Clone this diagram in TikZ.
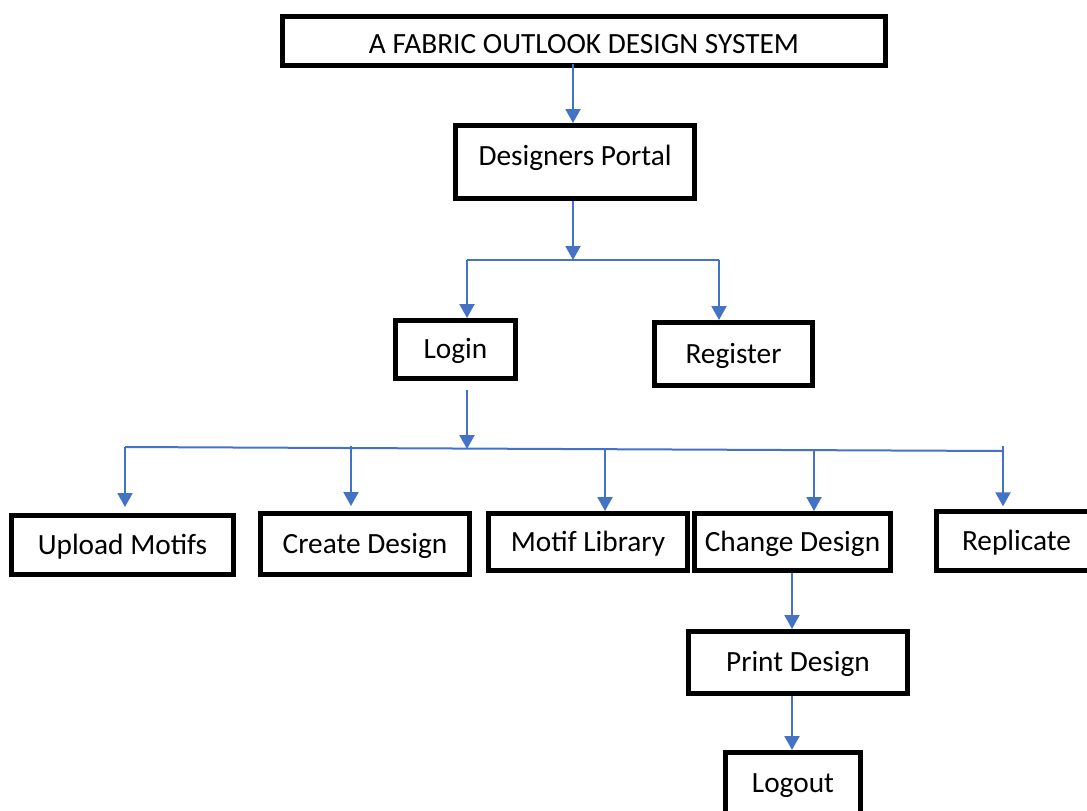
\documentclass[tikz,border=0pt]{standalone}
\usepackage{fontspec}
\setmainfont{Carlito}
\usetikzlibrary{arrows.meta,calc}
\definecolor{linkblue}{RGB}{68,114,196}
\begin{document}
\begin{tikzpicture}[x=0.75pt,y=-0.75pt,
  box/.style={draw=black, line width=3.75pt, inner sep=0pt, fill=white,
    font=\fontsize{22}{26}\selectfont, text height=14.17pt, text depth=0pt},
  sz/.style 2 args={minimum width=#1*0.75pt, minimum height=#2*0.75pt},
  link/.style={draw=linkblue, line width=1.5pt},
  arr/.style={link, -{Triangle[length=10.5pt,width=11.25pt]}}]
\useasboundingbox (0,0) rectangle (1087,810);
\fill[white] (0,0) rectangle (1087,810);

% boxes
\node[box, sz={603}{49}, text height=18pt] (title) at (584,41) {A FABRIC OUTLOOK DESIGN SYSTEM};
\node[box, sz={239}{73}, text depth=8.2pt] (portal) at (575,162) {Designers Portal};
\node[box, sz={120}{58}] (login) at (455.5,349.5) {Login};
\node[box, sz={158}{63}] (register) at (733.5,354) {Register};
\node[box, sz={222}{59}] (upload) at (122.5,545) {Upload Motifs};
\node[box, sz={209}{61}] (create) at (365,544) {Create Design};
\node[box, sz={199}{57}] (library) at (588,542) {Motif Library};
\node[box, sz={196}{57}] (change) at (792.5,542) {Change Design};
\node[box, sz={160}{59}] (replicate) at (1016.5,541) {Replicate};
\node[box, sz={219}{62}] (print) at (798,662.5) {Print Design};
\node[box, sz={135}{62}] (logout) at (793,783.5) {Logout};

% junction points
\coordinate (xa) at (573,0);
\coordinate (j1) at (573,260);
\coordinate (j1l) at (467,260);
\coordinate (j1r) at (719,260);
\coordinate (j2) at (467,449);
\coordinate (busl) at (125,447);
\coordinate (busr) at (1003,451);
\coordinate (b2) at (351,446);
\coordinate (b3) at (605,449);
\coordinate (b4) at (814,450);
\coordinate (b5) at (1003,446);
\coordinate (xc) at (792,0);

% connectors
\draw[arr] ($(title.south -| xa)+(0,-4)$) -- (portal.north -| xa);
\draw[arr] (portal.south -| j1) -- (j1);
\draw[link] (j1l) -- (j1r);
\draw[arr] (j1l) -- (login.north -| j1l);
\draw[arr] (j1r) -- (register.north -| j1r);
\draw[arr] ($(login.south -| j2)+(0,9)$) -- (j2);
\draw[link] (busl) -- (busr);
\draw[arr, shorten >=4.5pt] (busl) -- (upload.north -| busl);
\draw[arr, shorten >=3.75pt] (b2) -- (create.north -| b2);
\draw[arr] (b3) -- (library.north -| b3);
\draw[arr] (b4) -- (change.north -| b4);
\draw[arr, shorten >=2pt] (b5) -- (replicate.north -| b5);
\draw[arr] (change.south -| xc) -- (print.north -| xc);
\draw[arr] (print.south -| xc) -- (logout.north -| xc);
\end{tikzpicture}
\end{document}
